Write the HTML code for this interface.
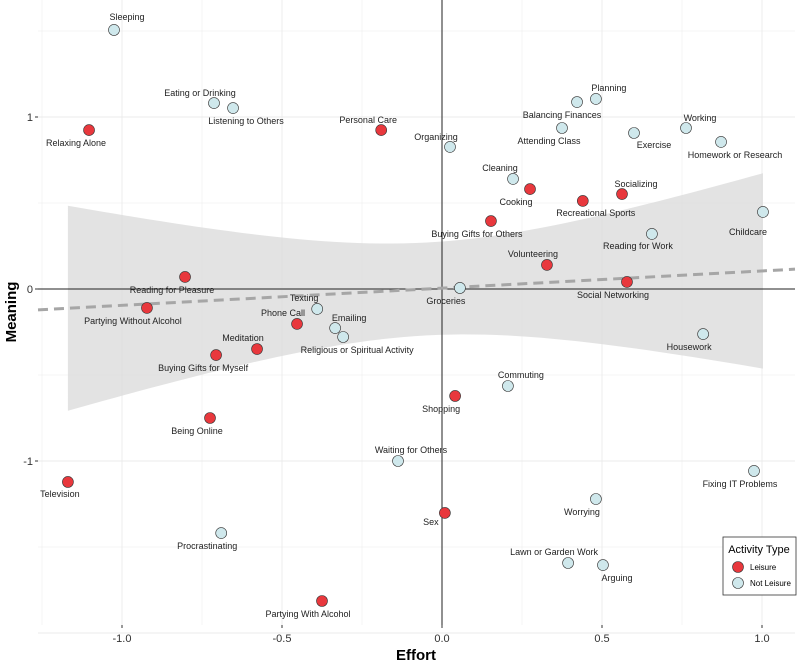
<!DOCTYPE html>
<html><head><meta charset="utf-8">
<style>
body{margin:0;background:#fff;font-family:"Liberation Sans",Arial,sans-serif;}
svg text{font-family:"Liberation Sans",Arial,sans-serif;}
</style></head>
<body>
<svg id="chart" width="800" height="663" viewBox="0 0 800 663" xmlns="http://www.w3.org/2000/svg">
<g id="grid"></g>
<g id="band"></g>
<g id="axes0"></g>
<g id="trend"></g>
<g id="pts"></g>
<g id="labs"></g>
<g id="ticks"></g>
<text x="416" y="660" text-anchor="middle" font-size="15" font-weight="bold">Effort</text>
<text transform="translate(16,312) rotate(-90)" text-anchor="middle" font-size="15" font-weight="bold">Meaning</text>
<g>
<rect x="723" y="537" width="73" height="58" fill="#fff" stroke="#333" stroke-width="0.8"/>
<text x="759" y="553" text-anchor="middle" font-size="11">Activity Type</text>
<circle cx="738" cy="567" r="5.5" fill="#e8383d" stroke="#333" stroke-width="0.6"/>
<text x="750" y="570" font-size="8">Leisure</text>
<circle cx="738" cy="583" r="5.5" fill="#cfe8ec" stroke="#333" stroke-width="0.6"/>
<text x="750" y="586" font-size="8">Not Leisure</text>
</g>
</svg>
<script>
const names=["Sleeping","Eating or Drinking","Listening to Others","Relaxing Alone","Personal Care","Organizing","Planning","Balancing Finances","Attending Class","Exercise","Working","Homework or Research","Cleaning","Cooking","Recreational Sports","Socializing","Childcare","Buying Gifts for Others","Reading for Work","Volunteering","Social Networking","Groceries","Reading for Pleasure","Partying Without Alcohol","Texting","Phone Call","Emailing","Religious or Spiritual Activity","Meditation","Buying Gifts for Myself","Housework","Commuting","Shopping","Being Online","Waiting for Others","Television","Fixing IT Problems","Worrying","Sex","Procrastinating","Lawn or Garden Work","Arguing","Partying With Alcohol"];
const effort=[-1.025,-0.7125,-0.653,-1.103,-0.19,0.025,0.481,0.422,0.375,0.6,0.7625,0.872,0.222,0.275,0.44,0.5625,1.003,0.153,0.656,0.328,0.578,0.056,-0.803,-0.922,-0.39,-0.453,-0.334,-0.309,-0.578,-0.706,0.816,0.206,0.041,-0.725,-0.1375,-1.169,0.975,0.481,0.009,-0.69,0.394,0.503,-0.375];
const meaning=[1.506,1.081,1.052,0.924,0.924,0.826,1.105,1.087,0.936,0.907,0.936,0.855,0.640,0.581,0.512,0.552,0.448,0.395,0.32,0.14,0.041,0.006,0.07,-0.11,-0.116,-0.203,-0.227,-0.279,-0.349,-0.384,-0.262,-0.564,-0.622,-0.75,-1.0,-1.122,-1.058,-1.221,-1.302,-1.419,-1.593,-1.605,-1.814];
const leisure=[0,0,0,1,1,0,0,0,0,0,0,0,0,1,1,1,0,1,0,1,1,0,1,1,0,1,0,0,1,1,0,0,1,1,0,1,0,0,1,0,0,0,1];
const xTicks=[-1.0,-0.5,0.0,0.5,1.0];
const xTickLabels=["-1.0","-0.5","0.0","0.5","1.0"];
const yTicks=[1,0,-1];
const yTickLabels=["1","0","-1"];
const trendIntercept=0.005, trendSlope=0.1;
const bandCenterX=-0.05, bandA=0.073, bandB=0.225;
// label offsets (px): style only
const ldx=[13,-14,13,-13,-13,-14,13,-15,-13,20,14,14,-13,-14,13,14,-15,-14,-14,-14,-14,-14,-13,-14,-13,-14,14,14,-14,-13,-14,13,-14,-13,13,-8,-14,-14,-14,-14,-14,14,-14];
const ldy=[-13,-10,13,13,-10,-10,-11,13,13,12,-10,13,-11,13,12,-10,20,13,12,-11,13,13,13,13,-11,-11,-10,13,-11,13,13,-11,13,13,-11,12,13,13,9,13,-11,13,13];

const L=38,R=795,T=0,B=625;
const X=v=>442+v*320, Y=v=>289-v*172;
const NS="http://www.w3.org/2000/svg";
function mk(p,tag,at){const e=document.createElementNS(NS,tag);for(const k in at)e.setAttribute(k,at[k]);document.getElementById(p).appendChild(e);return e;}
mk('grid','rect',{x:L,y:T,width:R-L,height:B-T,fill:'#fff'});
for(let v=-1.25;v<=1.26;v+=0.25){const isMaj=Math.abs(v*2-Math.round(v*2))<1e-6;const e=mk('grid','line',{x1:X(v),x2:X(v),y1:T,y2:B,stroke:'#ebebeb','stroke-width':isMaj?0.9:0.5});}
for(let v=-2;v<=1.6;v+=0.5){const e=mk('grid','line',{x1:L,x2:R,y1:Y(v),y2:Y(v),stroke:'#ebebeb','stroke-width':Number.isInteger(v)?0.9:0.5});}
const xmin=Math.min(...effort),xmax=Math.max(...effort);
let up=[],lo=[];
for(let i=0;i<=60;i++){const x=xmin+(xmax-xmin)*i/60;const c=trendIntercept+trendSlope*x;const h=Math.sqrt(bandA+bandB*(x-bandCenterX)**2);up.push(X(x)+','+Y(c+h));lo.push(X(x)+','+Y(c-h));}
const bp=mk('band','polygon',{points:up.concat(lo.reverse()).join(' '),fill:'#d9d9d9','fill-opacity':0.75});

let e=mk('axes0','line',{x1:L,x2:R,y1:Y(0),y2:Y(0),stroke:'#222','stroke-width':1});

e=mk('axes0','line',{x1:X(0),x2:X(0),y1:T,y2:B,stroke:'#222','stroke-width':1});

const xl=(L-442)/320,xr=(R-442)/320;
e=mk('trend','line',{x1:L,x2:R,y1:Y(trendIntercept+trendSlope*xl),y2:Y(trendIntercept+trendSlope*xr),stroke:'#a6a6a6','stroke-width':3,'stroke-dasharray':'10,6'});

names.forEach((n,i)=>{
 const c=mk('pts','circle',{cx:X(effort[i]),cy:Y(meaning[i]),r:5.5,fill:leisure[i]?'#e8383d':'#cfe8ec',stroke:'#333','stroke-width':0.6});
 
 const t=mk('labs','text',{x:X(effort[i])+ldx[i],y:Y(meaning[i])+ldy[i]+3,'text-anchor':'middle','font-size':9,fill:'#222'});
 t.textContent=n;
 
});
xTicks.forEach((v,i)=>{const t=mk('ticks','text',{x:X(v),y:642,'text-anchor':'middle','font-size':11,fill:'#333'});t.textContent=xTickLabels[i];
 const l=mk('ticks','line',{x1:X(v),x2:X(v),y1:B,y2:B+3,stroke:'#333'});});
yTicks.forEach((v,i)=>{const t=mk('ticks','text',{x:33,y:Y(v)+4,'text-anchor':'end','font-size':11,fill:'#333'});t.textContent=yTickLabels[i];
 const l=mk('ticks','line',{x1:L-3,x2:L,y1:Y(v),y2:Y(v),stroke:'#333'});});
</script>
</body></html>
